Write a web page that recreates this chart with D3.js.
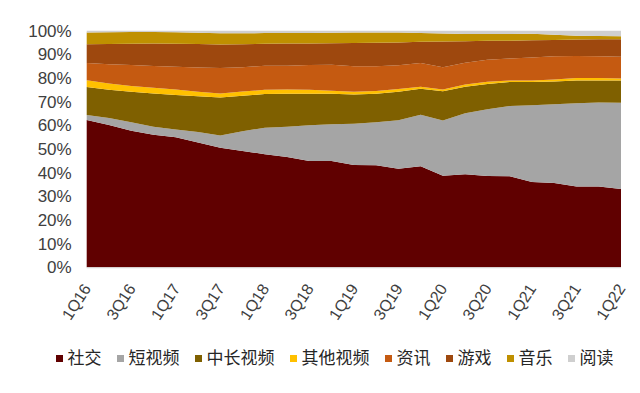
<!DOCTYPE html>
<html>
<head>
<meta charset="utf-8">
<script src="https://cdn.jsdelivr.net/npm/d3@7/dist/d3.min.js"></script>
<style>
  body { margin: 0; background: #fff; }
  svg { display: block; }
</style>
</head>
<body>
<div id="chart"></div>
<script>
const quarters = [
  '1Q16', '2Q16', '3Q16', '4Q16', '1Q17', '2Q17', '3Q17', '4Q17',
  '1Q18', '2Q18', '3Q18', '4Q18', '1Q19', '2Q19', '3Q19', '4Q19',
  '1Q20', '2Q20', '3Q20', '4Q20', '1Q21', '2Q21', '3Q21', '4Q21', '1Q22',
];
const tickLabels = [
  '1Q16', '3Q16', '1Q17', '3Q17', '1Q18', '3Q18', '1Q19',
  '3Q19', '1Q20', '3Q20', '1Q21', '3Q21', '1Q22',
];
const seriesNames = ['社交', '短视频', '中长视频', '其他视频', '资讯', '游戏', '音乐', '阅读'];

// share of time spent, %
const social = [62.3, 60.1, 57.7, 56.0, 55.0, 52.7, 50.5, 49.2, 47.8, 46.6, 44.9, 44.9, 43.2, 43.1, 41.7, 42.7, 38.7, 39.3, 38.6, 38.5, 36.0, 35.6, 34.1, 34.1, 33.1];
const shortVideo = [2.1, 3.0, 3.6, 3.4, 3.2, 4.5, 5.2, 8.3, 11.2, 12.8, 15.1, 15.6, 17.5, 18.2, 20.4, 21.8, 23.3, 25.8, 28.2, 29.7, 32.5, 33.3, 35.2, 35.6, 36.4];
const longVideo = [11.8, 11.9, 12.9, 14.1, 14.6, 15.1, 16.1, 15.0, 14.2, 14.0, 13.4, 12.8, 12.3, 12.1, 12.1, 11.0, 12.4, 11.2, 10.7, 10.1, 9.8, 9.6, 9.6, 9.2, 9.4];
const otherVideo = [2.9, 2.7, 2.4, 2.4, 2.3, 1.9, 1.7, 1.8, 1.8, 1.8, 1.6, 1.3, 1.2, 1.1, 1.2, 0.8, 0.8, 1.0, 0.9, 0.6, 0.7, 0.9, 1.1, 1.1, 0.9];
const news = [7.3, 8.1, 8.9, 9.2, 9.7, 10.2, 10.7, 10.3, 10.2, 10.0, 10.5, 11.0, 10.8, 10.5, 10.0, 10.0, 9.4, 9.2, 9.3, 9.4, 9.7, 9.8, 9.3, 9.2, 9.2];
const games = [7.9, 8.6, 9.0, 9.5, 9.7, 10.0, 10.0, 9.7, 9.3, 9.4, 9.1, 9.1, 9.8, 9.9, 9.6, 9.0, 10.8, 9.0, 8.0, 7.5, 7.3, 6.9, 7.0, 7.2, 7.4];
const music = [4.9, 4.9, 4.9, 4.8, 4.8, 4.7, 4.7, 4.6, 4.5, 4.4, 4.4, 4.4, 4.4, 4.3, 4.2, 3.7, 3.4, 3.1, 2.9, 2.8, 2.7, 2.2, 1.6, 1.4, 1.3];
const reading = [0.8, 0.7, 0.6, 0.6, 0.7, 0.9, 1.1, 1.1, 1.0, 1.0, 1.0, 0.9, 0.8, 0.8, 0.8, 1.0, 1.2, 1.4, 1.4, 1.4, 1.3, 1.7, 2.1, 2.2, 2.3];

const colors = ['#600000', '#a5a5a5', '#7f6000', '#ffc000', '#c55a11', '#9e480e', '#bf9000', '#cfcfcf'];

const width = 640;
const height = 393;
const plotLeft = 86.7;
const plotRight = 621;
const plotTop = 30.7;
const plotBottom = 267.3;

const seriesValues = [social, shortVideo, longVideo, otherVideo, news, games, music, reading];
const rows = quarters.map((q, i) => {
  const row = { quarter: q };
  seriesNames.forEach((name, k) => { row[name] = seriesValues[k][i]; });
  return row;
});

const stacked = d3.stack()
  .keys(seriesNames)
  .offset(d3.stackOffsetExpand)(rows);

const xScale = d3.scalePoint().domain(quarters).range([plotLeft, plotRight]);
const yScale = d3.scaleLinear().domain([0, 1]).range([plotBottom, plotTop]);

const svg = d3.select('#chart')
  .append('svg')
  .attr('width', width)
  .attr('height', height);

const area = d3.area()
  .x((d) => xScale(d.data.quarter))
  .y0((d) => yScale(d[0]))
  .y1((d) => yScale(d[1]));

svg.append('g')
  .selectAll('path')
  .data(stacked)
  .join('path')
  .attr('fill', (d, i) => colors[i])
  .attr('d', area);

// bottom axis line
svg.append('line')
  .attr('x1', plotLeft)
  .attr('x2', plotRight)
  .attr('y1', plotBottom + 0.5)
  .attr('y2', plotBottom + 0.5)
  .attr('stroke', '#d9d9d9')
  .attr('stroke-width', 1);

// y axis labels
const yAxis = (g) => {
  g.attr('transform', `translate(${plotLeft - 15}, 0)`)
    .call(d3.axisLeft(yScale).ticks(10).tickFormat(d3.format('.0%')).tickSize(0).tickPadding(0));
  g.select('.domain').remove();
  g.selectAll('text')
    .attr('font-family', '"Liberation Sans", Arial, sans-serif')
    .attr('font-size', 17)
    .attr('fill', '#404040');
};
svg.append('g').call(yAxis);

// x axis labels, rotated
svg.append('g')
  .selectAll('text')
  .data(tickLabels)
  .join('text')
  .attr('transform', (d) => `translate(${xScale(d) + 5}, 288.5) rotate(-57)`)
  .attr('text-anchor', 'end')
  .attr('font-family', '"Liberation Sans", Arial, sans-serif')
  .attr('font-size', 16)
  .attr('fill', '#404040')
  .text((d) => d);

// legend
const legend = svg.append('g').attr('transform', 'translate(56, 364)');
let cursor = 0;
seriesNames.forEach((name, i) => {
  const item = legend.append('g').attr('transform', `translate(${cursor}, 0)`);
  item.append('rect')
    .attr('x', 0)
    .attr('y', -9)
    .attr('width', 7)
    .attr('height', 7)
    .attr('fill', colors[i]);
  const label = item.append('text')
    .attr('x', 11.5)
    .attr('font-family', '"Noto Sans CJK SC", sans-serif')
    .attr('font-size', 17)
    .attr('fill', '#262626')
    .text(name);
  cursor += 11.5 + label.node().getComputedTextLength() + 15.5;
});
</script>
</body>
</html>
